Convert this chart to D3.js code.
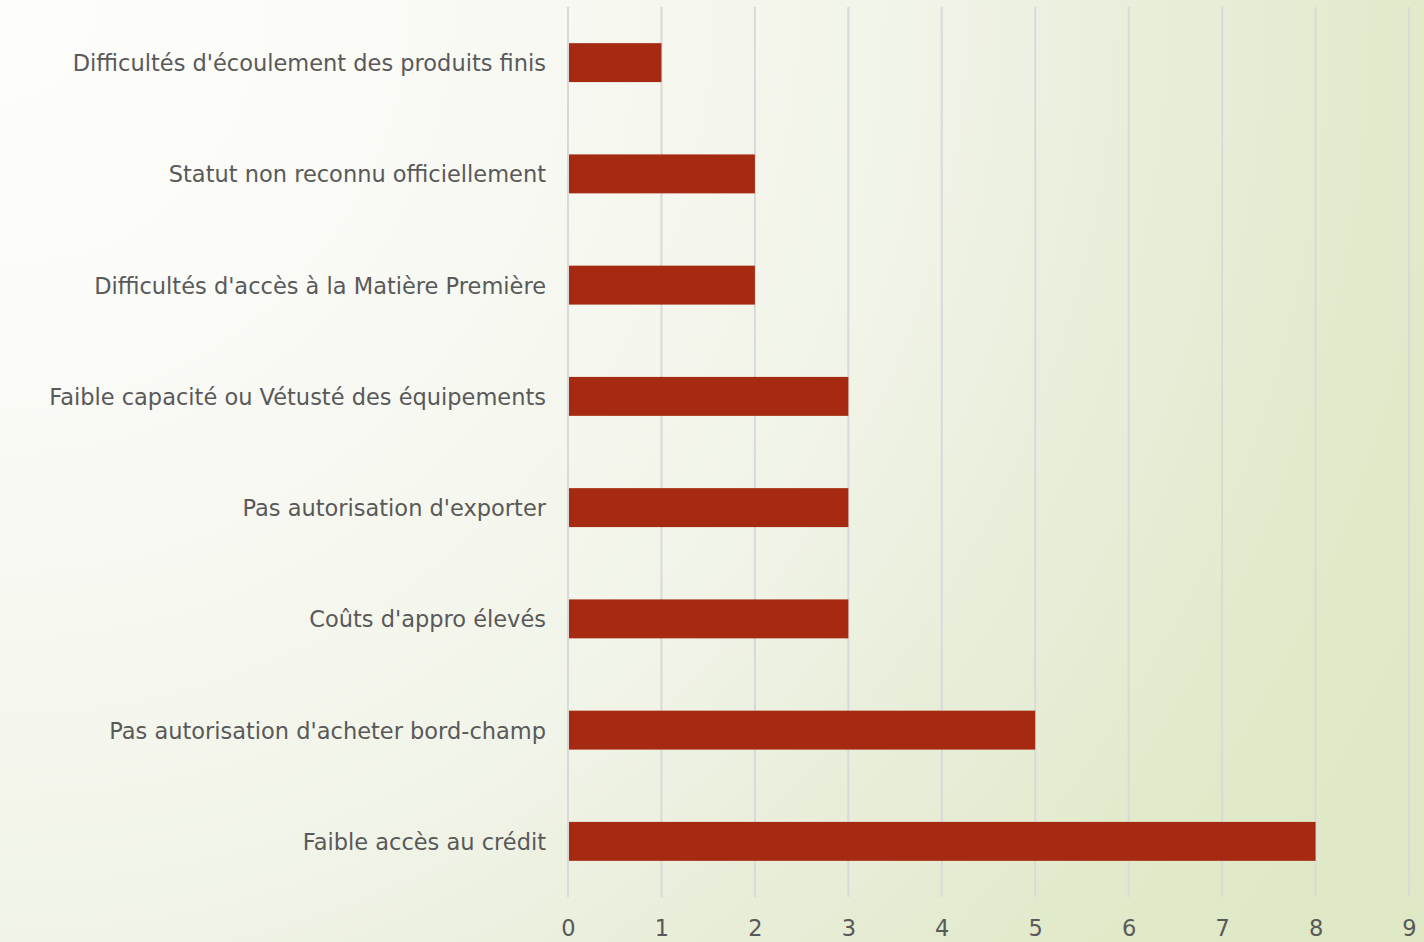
<!DOCTYPE html>
<html>
<head>
<meta charset="utf-8">
<script src="https://cdn.jsdelivr.net/npm/d3@7"></script>
<style>
  html, body { margin: 0; padding: 0; }
  body { width: 1424px; height: 942px; overflow: hidden; }
  svg text { font-family: "DejaVu Sans", "Noto Sans", sans-serif; fill: #595959; }
</style>
</head>
<body>
<svg id="chart" width="1424" height="942"></svg>
<script>
// Obstacles cités, du haut vers le bas
const categories = [
  "Difficultés d'écoulement des produits finis",
  "Statut non reconnu officiellement",
  "Difficultés d'accès à la Matière Première",
  "Faible capacité ou Vétusté des équipements",
  "Pas autorisation d'exporter",
  "Coûts d'appro élevés",
  "Pas autorisation d'acheter bord-champ",
  "Faible accès au crédit"
];
const values = [1, 2, 2, 3, 3, 3, 5, 8];
const xTicks = [0, 1, 2, 3, 4, 5, 6, 7, 8, 9];

const W = 1424, H = 942;
const margin = { left: 568, right: 15, top: 7, bottom: 45 };

const svg = d3.select("#chart");

// Background wash: pale in the top-left corner, soft green towards the right
const defs = svg.append("defs");
const grad = defs.append("radialGradient")
  .attr("id", "bg")
  .attr("gradientUnits", "userSpaceOnUse")
  .attr("cx", 0).attr("cy", 0)
  .attr("r", 1700);
[
  [0, "#fdfdfb"], [0.235, "#fafaf6"], [0.41, "#f5f7ee"], [0.53, "#f1f4e8"],
  [0.67, "#e9eedb"], [0.86, "#e0e9c8"], [1, "#dee8c5"]
].forEach(([o, c]) => grad.append("stop").attr("offset", o).attr("stop-color", c));
svg.append("rect").attr("width", W).attr("height", H).attr("fill", "url(#bg)");

const x = d3.scaleLinear()
  .domain([0, 9])
  .range([margin.left, W - margin.right]);

const y = d3.scaleBand()
  .domain(categories)
  .range([margin.top, H - margin.bottom])
  .paddingInner(0.65)
  .paddingOuter(0.325);

// Vertical gridlines
svg.append("g")
  .selectAll("line")
  .data(xTicks)
  .join("line")
  .attr("x1", d => x(d)).attr("x2", d => x(d))
  .attr("y1", margin.top).attr("y2", H - margin.bottom)
  .attr("stroke", "#d9d9d9")
  .attr("stroke-width", 2);

// Bars
svg.append("g")
  .selectAll("rect")
  .data(values)
  .join("rect")
  .attr("x", x(0) + 1)
  .attr("y", (d, i) => y(categories[i]))
  .attr("width", d => x(d) - x(0) - 1)
  .attr("height", y.bandwidth())
  .attr("fill", "#a52a11");

// Category axis
const yAxis = svg.append("g")
  .attr("transform", `translate(${margin.left - 22},0)`)
  .call(d3.axisLeft(y).tickSize(0).tickPadding(0));
yAxis.select(".domain").remove();
yAxis.selectAll("text")
  .attr("font-size", 22.5)
  .attr("dy", "0.38em")
  .attr("fill", "#595959");

// Value axis
const xAxis = svg.append("g")
  .attr("transform", `translate(0,${H - margin.bottom})`)
  .call(d3.axisBottom(x).tickValues(xTicks).tickFormat(d3.format("d")).tickSize(0).tickPadding(23));
xAxis.select(".domain").remove();
xAxis.selectAll("text")
  .attr("font-size", 22.5)
  .attr("fill", "#595959");
</script>
</body>
</html>
